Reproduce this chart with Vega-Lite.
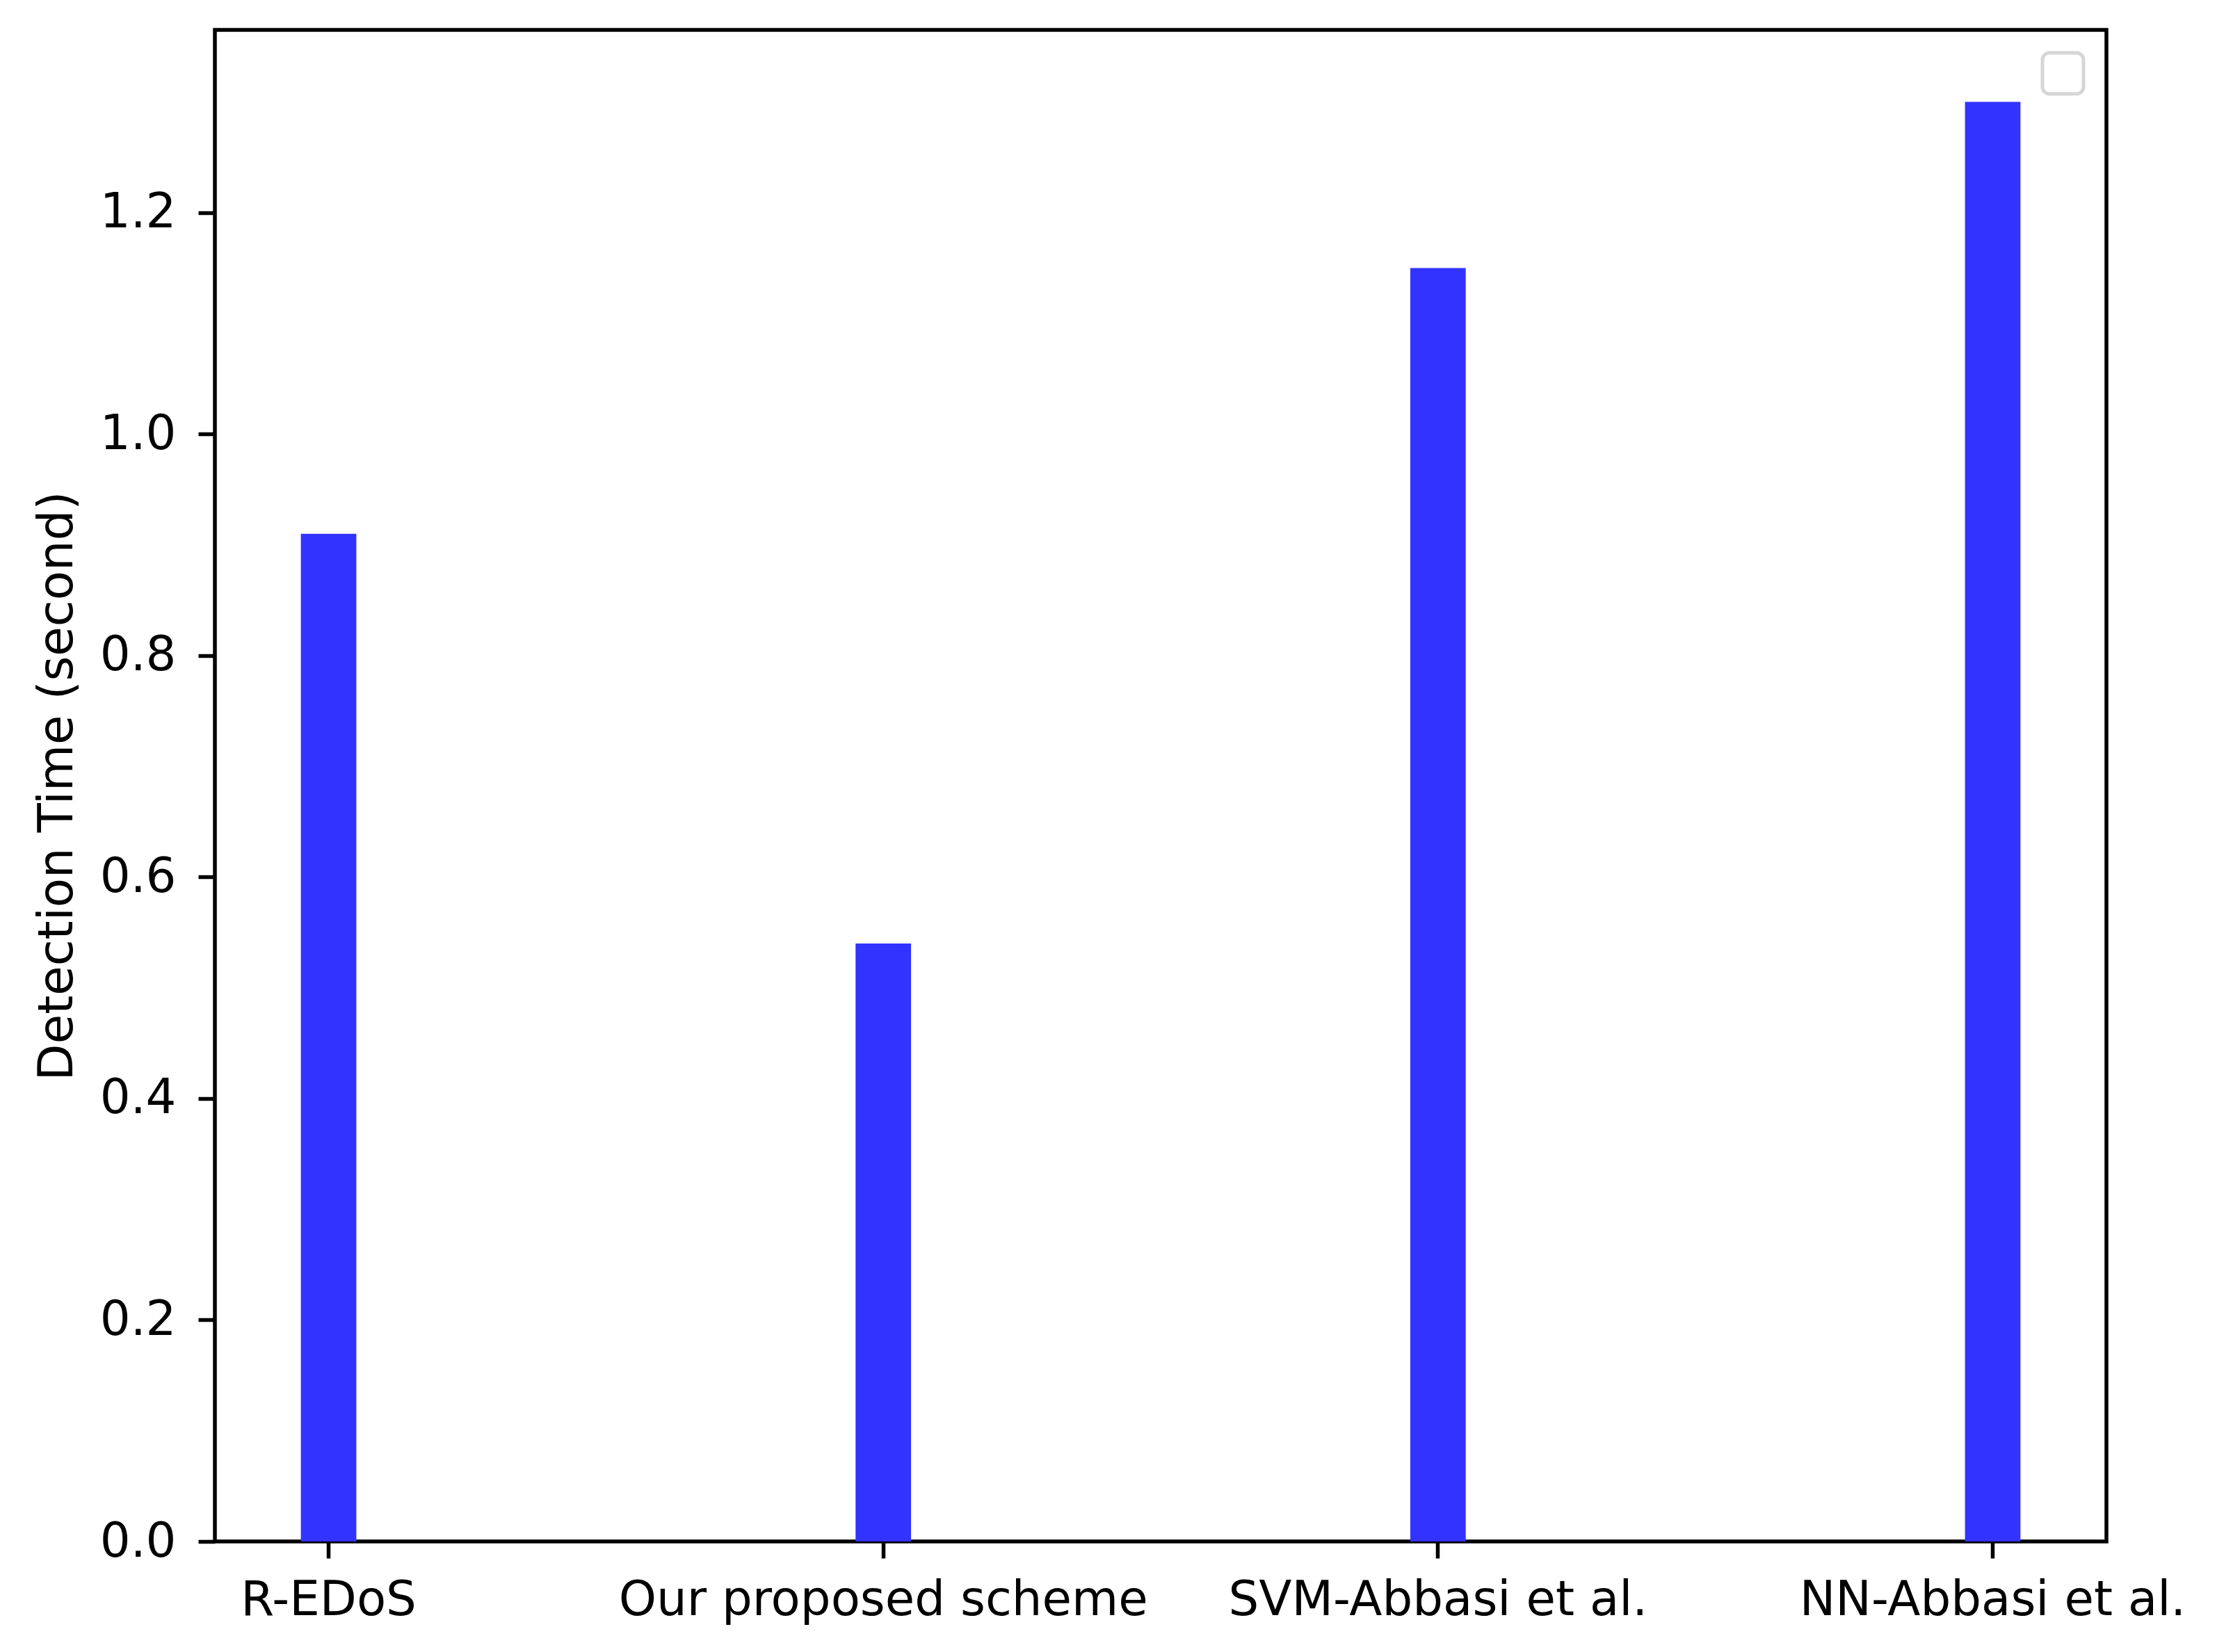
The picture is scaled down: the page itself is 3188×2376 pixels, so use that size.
{
  "$schema": "https://vega.github.io/schema/vega-lite/v6.json",
  "width": 2720,
  "height": 2174,
  "autosize": "none",
  "padding": {"left": 309, "top": 43, "right": 159, "bottom": 159},
  "background": "white",
  "config": {
    "view": {"stroke": "black", "strokeWidth": 5.5, "fill": "white"},
    "axis": {
      "labelFont": "DejaVu Sans",
      "titleFont": "DejaVu Sans",
      "labelFontSize": 69,
      "titleFontSize": 69,
      "labelColor": "black",
      "titleColor": "black",
      "titleFontWeight": "normal",
      "tickColor": "black",
      "tickWidth": 5.5,
      "tickSize": 24,
      "labelLimit": 0,
      "domain": false,
      "grid": false
    }
  },
  "data": {
    "values": [
      {"method": "R-EDoS", "time": 0.91},
      {"method": "Our proposed scheme", "time": 0.54},
      {"method": "SVM-Abbasi et al.", "time": 1.15},
      {"method": "NN-Abbasi et al.", "time": 1.30}
    ]
  },
  "mark": {"type": "bar", "color": "#3333ff"},
  "encoding": {
    "x": {
      "field": "method",
      "type": "nominal",
      "sort": null,
      "scale": {"paddingInner": 0.9, "paddingOuter": 0.155},
      "axis": {"title": null, "labelAngle": 0, "labelPadding": 26, "labelOverlap": false, "labelBound": false, "labelLimit": 0}
    },
    "y": {
      "field": "time",
      "type": "quantitative",
      "scale": {"domain": [0, 1.365], "nice": false},
      "axis": {
        "title": "Detection Time (second)",
        "values": [0, 0.2, 0.4, 0.6, 0.8, 1.0, 1.2],
        "format": ".1f",
        "labelPadding": 32,
        "titlePadding": 26
      }
    },
    "color": {
      "datum": "legend",
      "scale": {"range": ["#3333ff"]},
      "legend": {
        "orient": "top-right",
        "offset": 33,
        "title": null,
        "labelExpr": "''",
        "labelFontSize": 1,
        "labelOffset": 0,
        "symbolSize": 1,
        "symbolOpacity": 0,
        "symbolStrokeWidth": 0,
        "padding": 29,
        "strokeColor": "#d6d6d6",
        "cornerRadius": 10,
        "fillColor": "white",
        "encode": {"legend": {"update": {"strokeWidth": {"value": 5}}}}
      }
    }
  }
}
